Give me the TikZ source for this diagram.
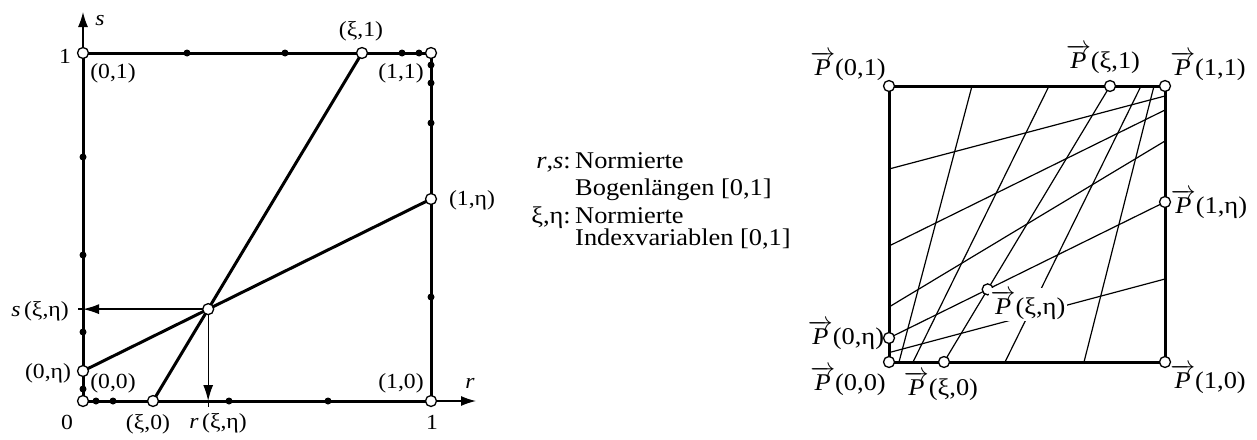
\documentclass[tikz,border=0pt]{standalone}
\usepackage{fontspec}
\setmainfont{Liberation Serif}[FakeStretch=1.1]
\usetikzlibrary{arrows.meta,calc}
\newcommand\vP{\ensuremath{\overrightarrow{\textit{P}}}}
\newcommand\lfont{\fontsize{21.5}{25}\selectfont}
\newcommand\bfontx{\fontsize{24}{28}\selectfont}
\tikzset{
  thickline/.style={line width=3pt},
  thinline/.style={line width=1.3pt},
  gridline/.style={line width=1.2pt},
  opn/.style={circle, draw, fill=white, line width=1.3pt, minimum size=11pt, inner sep=0pt},
  dot/.style={circle, fill=black, minimum size=7pt, inner sep=0pt},
  lbl/.style={font=\lfont, inner sep=0pt, anchor=base},
  plbl/.style={font=\bfontx, inner sep=0pt, anchor=base},
  txt/.style={font=\bfontx, inner sep=0pt},
  axarrow/.style={thinline, -{Latex[length=15pt,width=10pt]}},
  projarrow/.style={thinline, -{Latex[length=16pt,width=10pt]}},
}
\begin{document}
\begin{tikzpicture}[x=1pt,y=-1pt]
\useasboundingbox (0,0) rectangle (1257,439);
% ---------------- left: parameter square ----------------
\coordinate (A00) at (83,401);
\coordinate (A10) at (431,401);
\coordinate (A11) at (431,53);
\coordinate (A01) at (83,53);
\coordinate (Axi0) at (153,401);
\coordinate (Axi1) at (362,53);
\coordinate (A0eta) at (83,371);
\coordinate (A1eta) at (431,199);
\coordinate (stip) at (83,12);
\coordinate (rtip) at (476,401);
\draw[axarrow] (A01) -- (stip);
\draw[axarrow] (A10) -- (rtip);
\draw[thickline] (A00) -- (A10) -- (A11) -- (A01) -- cycle;
\draw[thickline] (Axi0) -- (Axi1);
\draw[thickline] (A0eta) -- (A1eta);
\coordinate (X) at (intersection of Axi0--Axi1 and A0eta--A1eta);
\coordinate (Xs) at (X -| A00);
\coordinate (Xr) at (X |- A00);
\coordinate (Xs2) at ($(Xs)+(-5,0)$);
\coordinate (Xr2) at ($(Xr)+(0,6)$);
\draw[thinline] (Xs) -- (Xs2);
\draw[thinline] (Xr) -- (Xr2);
\draw[projarrow] (X) -- (Xs);
\draw[projarrow] (X) -- (Xr);
% dots
\foreach \x [count=\i] in {96,113,229,328} \node[dot] (db\i) at (\x,401) {};
\foreach \x [count=\i] in {187,285,402,419} \node[dot] (dt\i) at (\x,53) {};
\foreach \y [count=\i] in {65,83,123,297} \node[dot] (dr\i) at (431,\y) {};
\foreach \y [count=\i] in {157,255,332,389} \node[dot] (dl\i) at (83,\y) {};
% open circles
\node[opn] (cA00) at (A00) {};
\node[opn] (cA10) at (A10) {};
\node[opn] (cA11) at (A11) {};
\node[opn] (cA01) at (A01) {};
\node[opn] (cAxi0) at (Axi0) {};
\node[opn] (cAxi1) at (Axi1) {};
\node[opn] (cA0eta) at (A0eta) {};
\node[opn] (cA1eta) at (A1eta) {};
\node[opn] (cX) at (X) {};
% labels
\node[lbl] (l1) at (65,63) {1};
\node[lbl] (l2) at (113,78) {(0,1)};
\node[lbl] (l3) at (361,36) {(ξ,1)};
\node[lbl] (l4) at (401,78) {(1,1)};
\node[lbl] (l5) at (472,205) {(1,η)};
\node[lbl] (l6) at (40,316) {\textit{s}\,(ξ,η)};
\node[lbl] (l7) at (48,378) {(0,η)};
\node[lbl] (l8) at (113,388) {(0,0)};
\node[lbl] (l9) at (401,388) {(1,0)};
\node[lbl] (l10) at (470,388) {\textit{r}};
\node[lbl] (l11) at (100,25) {\textit{s}};
\node[lbl] (l12) at (67,429) {0};
\node[lbl] (l13) at (148,429) {(ξ,0)};
\node[lbl] (l14) at (218,428) {\textit{r}\,(ξ,η)};
\node[lbl] (l15) at (432,429) {1};
% ---------------- middle text ----------------
\node[txt, anchor=base east] (k1) at (571,168) {\textit{r},\textit{s}:};
\node[txt, anchor=base west] (m1) at (575,168) {Normierte};
\node[txt, anchor=base west] (m2) at (575,195) {Bogenlängen [0,1]};
\node[txt, anchor=base east] (k2) at (571,223) {ξ,η:};
\node[txt, anchor=base west] (m3) at (575,223) {Normierte};
\node[txt, anchor=base west] (m4) at (575,245) {Indexvariablen [0,1]};
% ---------------- right: physical square ----------------
\coordinate (B00) at (889,362);
\coordinate (B10) at (1165,362);
\coordinate (B11) at (1165,86);
\coordinate (B01) at (889,86);
% xi lines
\foreach \b/\t [count=\i] in {899/972,913/1049,944/1110,1005/1141,1084/1154} {
  \coordinate (xb\i) at (\b,362);
  \coordinate (xt\i) at (\t,86);
  \draw[gridline] (xb\i) -- (xt\i);
}
% eta lines
\foreach \l/\r [count=\i] in {352.6/279,338/202,307/141,246/110,169/96} {
  \coordinate (el\i) at (889,\l);
  \coordinate (er\i) at (1165,\r);
  \draw[gridline] (el\i) -- (er\i);
}
\draw[thickline] (B00) -- (B10) -- (B11) -- (B01) -- cycle;
\coordinate (Y) at (intersection of xb3--xt3 and el2--er2);
\node[opn] (cB00) at (B00) {};
\node[opn] (cB10) at (B10) {};
\node[opn] (cB11) at (B11) {};
\node[opn] (cB01) at (B01) {};
\node[opn] (cBxi0) at (xb3) {};
\node[opn] (cBxi1) at (xt3) {};
\node[opn] (cB0eta) at (el2) {};
\node[opn] (cB1eta) at (er2) {};
\node[opn] (cY) at (Y) {};
\node[plbl] (p1) at (848,75) {\vP(0,1)};
\node[plbl] (p2) at (1103,68) {\vP(ξ,1)};
\node[plbl] (p3) at (1208,75) {\vP(1,1)};
\node[plbl] (p4) at (1209,213) {\vP(1,η)};
\node[plbl] (p5) at (1208,388) {\vP(1,0)};
\node[plbl] (p6) at (848,390) {\vP(0,0)};
\node[plbl] (p7) at (941,395) {\vP(ξ,0)};
\node[plbl] (p8) at (846,344) {\vP(0,η)};
\node[plbl, fill=white, inner sep=2pt] (p9) at (1028,314) {\vP(ξ,η)};
\end{tikzpicture}
\end{document}
